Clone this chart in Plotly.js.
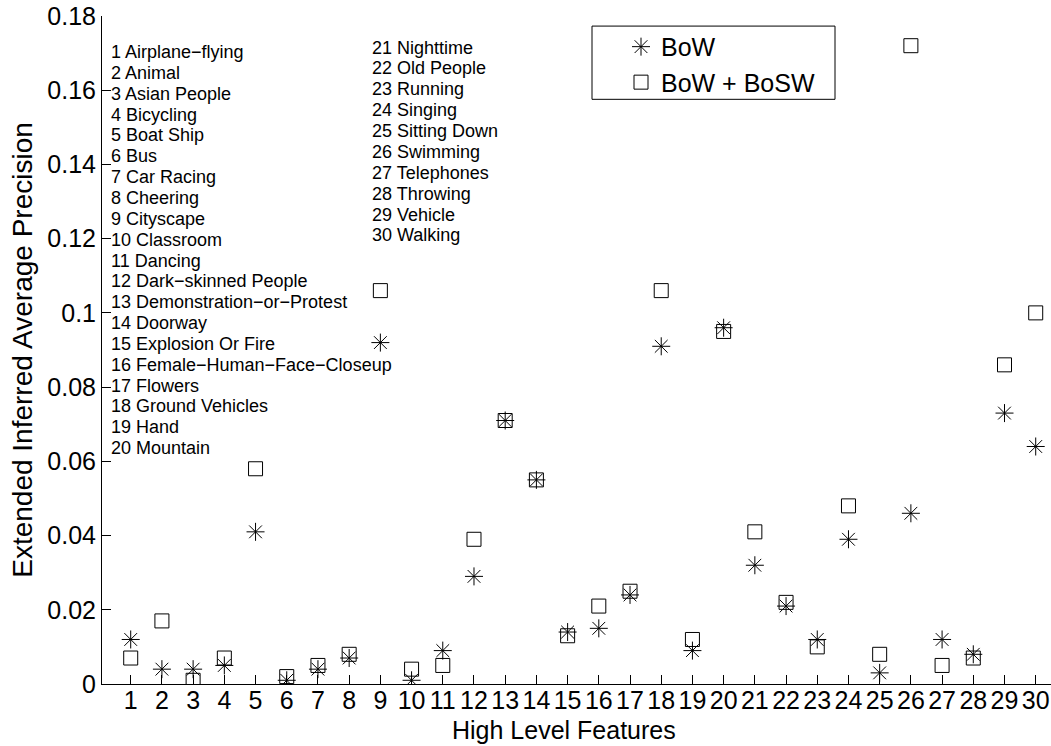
<!DOCTYPE html>
<html>
<head>
<meta charset="utf-8">
<script src="https://cdn.plot.ly/plotly-3.0.1.min.js"></script>
<style>html,body{margin:0;padding:0;background:#fff;overflow:hidden}#chart{width:1051px;height:746px}</style>
</head>
<body>
<div id="chart"></div>
<script>
// Feature indices and names
const featureIndex = [1,2,3,4,5,6,7,8,9,10,11,12,13,14,15,16,17,18,19,20,21,22,23,24,25,26,27,28,29,30];
const featureNames = [
  "Airplane\u2212flying","Animal","Asian People","Bicycling","Boat Ship","Bus","Car Racing","Cheering",
  "Cityscape","Classroom","Dancing","Dark\u2212skinned People","Demonstration\u2212or\u2212Protest","Doorway",
  "Explosion Or Fire","Female\u2212Human\u2212Face\u2212Closeup","Flowers","Ground Vehicles","Hand","Mountain",
  "Nighttime","Old People","Running","Singing","Sitting Down","Swimming","Telephones","Throwing","Vehicle","Walking"
];
// Series values (extended inferred average precision)
const bowValues = [0.012,0.004,0.004,0.005,0.041,0.001,0.004,0.007,0.092,0.001,
                   0.009,0.029,0.071,0.055,0.014,0.015,0.024,0.091,0.009,0.096,
                   0.032,0.021,0.012,0.039,0.003,0.046,0.012,0.008,0.073,0.064];
const bowBoswValues = [0.007,0.017,0.001,0.007,0.058,0.002,0.005,0.008,0.106,0.004,
                       0.005,0.039,0.071,0.055,0.013,0.021,0.025,0.106,0.012,0.095,
                       0.041,0.022,0.010,0.048,0.008,0.172,0.005,0.007,0.086,0.100];
const xTickLabels = featureIndex.map(String);
const yTickValues = [0,0.02,0.04,0.06,0.08,0.1,0.12,0.14,0.16,0.18];
const xTitle = "High Level Features";
const yTitle = "Extended Inferred Average Precision";

const FONT = "Liberation Sans, Arial, Helvetica, sans-serif";

const traces = [
  {x: featureIndex, y: bowValues, name: "BoW", type: "scatter", mode: "markers",
   marker: {symbol: "asterisk-open", size: 15, color: "#000", line: {color: "#000", width: 1}}},
  {x: featureIndex, y: bowBoswValues, name: "BoW + BoSW", type: "scatter", mode: "markers",
   marker: {symbol: "square-open", size: 14, color: "#000", line: {color: "#000", width: 1}}}
];

// layout geometry
const L = 102, T = 15.6, B = 61.7, W = 1051, H = 746;
const plotW = W - L, plotH = H - T - B;
const px2x = p => (p - L) / plotW;
const py2y = p => (H - B - p) / plotH;

const annotations = [];
featureNames.forEach((nm, i) => {
  const left = i < 20;
  const k = left ? i : i - 20;
  const ypx = left ? 51.7 + k * 20.87 : 47.2 + k * 20.9;
  annotations.push({
    text: (i + 1) + " " + nm, xref: "paper", yref: "paper",
    x: px2x(left ? 109 : 370), y: py2y(ypx), xanchor: "left", yanchor: "middle",
    showarrow: false, font: {family: FONT, size: 18, color: "#000"}
  });
});
// x-axis title placed below the tick labels
annotations.push({
  text: xTitle, xref: "paper", yref: "paper", x: px2x(564), y: py2y(745.5),
  xanchor: "center", yanchor: "bottom", showarrow: false, borderpad: 0,
  font: {family: FONT, size: 25, color: "#000"}
});

const layout = {
  width: W, height: H,
  margin: {l: L, r: 0, t: T, b: B, pad: 0},
  paper_bgcolor: "#fff", plot_bgcolor: "#fff",
  font: {family: FONT, size: 25, color: "#000"},
  showlegend: true,
  legend: {x: px2x(621), y: py2y(23.5), xanchor: "left", yanchor: "top",
           bgcolor: "rgba(0,0,0,0)", borderwidth: 0, font: {family: FONT, size: 25, color: "#000"}},
  xaxis: {range: [0.08, 30.49], tickmode: "array", tickvals: featureIndex, ticktext: xTickLabels,
          ticks: "inside", ticklen: 9, tickcolor: "#000", tickwidth: 1, ticklabelstandoff: -6,
          showline: true, linecolor: "#000", linewidth: 1, mirror: false,
          showgrid: false, zeroline: false, automargin: false,
          tickfont: {family: FONT, size: 25, color: "#000"}},
  yaxis: {range: [0, 0.18], tickmode: "array", tickvals: yTickValues,
          ticks: "inside", ticklen: 9, tickcolor: "#000", tickwidth: 1,
          showline: true, linecolor: "#000", linewidth: 1, mirror: false,
          showgrid: false, zeroline: false, automargin: false,
          tickfont: {family: FONT, size: 25, color: "#000"},
          title: {text: yTitle, font: {family: FONT, size: 28, color: "#000"}, standoff: 6}},
  shapes: [{type: "rect", xref: "paper", yref: "paper",
            x0: px2x(592), x1: px2x(835), y0: py2y(99), y1: py2y(25.7),
            line: {color: "#000", width: 1}, fillcolor: "rgba(0,0,0,0)"}],
  annotations: annotations
};

Plotly.newPlot("chart", traces, layout, {displayModeBar: false, staticPlot: true});
</script>
</body>
</html>
